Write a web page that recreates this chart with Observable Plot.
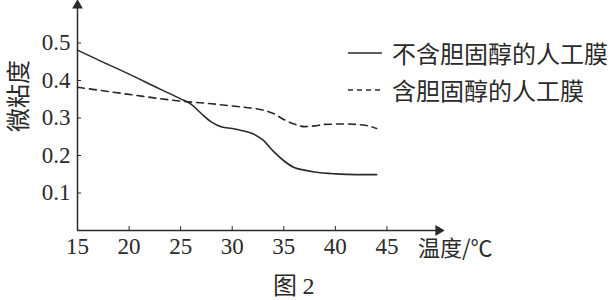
<!DOCTYPE html>
<html><head><meta charset="utf-8">
<script src="https://cdn.jsdelivr.net/npm/d3@7"></script>
<script src="https://cdn.jsdelivr.net/npm/@observablehq/plot@0.6"></script>
<style>
html,body{margin:0;padding:0;background:#fff;}
#wrap{position:relative;width:616px;height:300px;overflow:hidden;font-family:"Noto Sans CJK SC",sans-serif;color:#2a2a2a;}
.abs{position:absolute;white-space:nowrap;line-height:1;}
.serif{font-family:"Liberation Serif",serif;}
#wrap svg text{font-family:"Liberation Serif",serif;}
</style></head>
<body><div id="wrap"><div class="abs" id="cap" style="left:273px;top:272px;font-size:24px;"><span id="cap1"></span><span id="cap2" class="serif"></span></div></div>
<script>
// Data
const solidTemp = [15,17,20,23,25,26,27,28,29,30,31,32,33,34,35,36,37,38,40,42,44];
const solidVisc = [0.481,0.455,0.417,0.377,0.351,0.337,0.312,0.289,0.276,0.272,0.266,0.258,0.241,0.211,0.186,0.168,0.161,0.156,0.151,0.149,0.149];
const dashTemp = [15,20,25,28,30,32,33,34,35,36,37,38,39,41,43,44];
const dashVisc = [0.382,0.363,0.345,0.338,0.332,0.326,0.321,0.312,0.296,0.284,0.277,0.279,0.283,0.284,0.280,0.272];
const xTicks = [15,20,25,30,35,40,45];
const yTicks = [0.1,0.2,0.3,0.4,0.5];
const seriesNames = ["不含胆固醇的人工膜","含胆固醇的人工膜"];
const xTitle = "温度/℃";
const yTitle = "微粘度";
const caption = "图 2";
const xDomain = [15,50];
const yDomain = [0,0.6];

const solid = solidTemp.map((t,i)=>({t, v: solidVisc[i]}));
const dashed = dashTemp.map((t,i)=>({t, v: dashVisc[i]}));
const ink = "#2a2a2a";
const serif = "Liberation Serif";

const chart = Plot.plot({
  width: 616, height: 270,
  marginLeft: 77, marginRight: 178, marginTop: 5, marginBottom: 40,
  x: {domain: xDomain},
  y: {domain: yDomain},
  style: {fontSize: "23px", color: ink, background: "#fff", fontFamily: serif},
  marks: [
    Plot.ruleY([yDomain[0]], {stroke: ink, strokeWidth: 1.5}),
    Plot.ruleX([xDomain[0]], {stroke: ink, strokeWidth: 1.5}),
    Plot.dot([{x: xDomain[1], y: yDomain[0]}], {x: "x", y: "y", symbol: "triangle", rotate: 90, r: 4, fill: ink, stroke: "none"}),
    Plot.dot([{x: xDomain[0], y: yDomain[1]}], {x: "x", y: "y", symbol: "triangle", rotate: 0, r: 4, fill: ink, stroke: "none"}),
    Plot.axisX(xTicks.slice(1), {tickSize: 4, dy: -4, tickFormat: () => "", label: null, stroke: ink}),
    Plot.axisX(xTicks, {tickSize: 0, tickPadding: 7, label: null, fill: ink, fontSize: 23, fontFamily: serif}),
    Plot.axisY(yTicks, {tickSize: 4, dx: 4, tickFormat: () => "", label: null, stroke: ink}),
    Plot.axisY(yTicks, {tickSize: 0, tickPadding: 7, tickFormat: d3.format(".1f"), label: null, fill: ink, fontSize: 23, fontFamily: serif}),
    Plot.line(solid, {x: "t", y: "v", curve: "monotone-x", stroke: ink, strokeWidth: 1.6}),
    Plot.line(dashed, {x: "t", y: "v", curve: "monotone-x", stroke: ink, strokeWidth: 1.6, strokeDasharray: "7,5"})
  ]
});
d3.select(chart).selectAll("text").attr("font-family", serif).style("font-family", serif);
const wrap = document.getElementById("wrap");
chart.style.position = "absolute"; chart.style.left = "0"; chart.style.top = "0";
wrap.insertBefore(chart, wrap.firstChild);

const NS = "http://www.w3.org/2000/svg";
function addDiv(text, css){
  const d = document.createElement("div");
  d.className = "abs"; d.textContent = text;
  Object.assign(d.style, css);
  wrap.appendChild(d);
  return d;
}
// y title (rotated)
{
  const s = document.createElementNS(NS, "svg");
  s.setAttribute("width","34"); s.setAttribute("height","200");
  s.style.position = "absolute"; s.style.left = "0"; s.style.top = "0";
  const t = document.createElementNS(NS, "text");
  t.setAttribute("transform","translate(16,96) rotate(-90)");
  t.setAttribute("text-anchor","middle"); t.setAttribute("dominant-baseline","central");
  t.setAttribute("font-size","24"); t.setAttribute("fill", ink);
  t.style.fontFamily = "Noto Sans CJK SC";
  t.textContent = yTitle;
  s.appendChild(t); wrap.appendChild(s);
}
// x title
addDiv(xTitle, {left: "418px", top: "235px", fontSize: "22px"});
// caption
const capParts = caption.split(" ");
document.getElementById("cap1").textContent = capParts[0] + " ";
document.getElementById("cap2").textContent = capParts[1];
// legend
const dashes = ["none", "5,4"];
seriesNames.forEach((name, i) => {
  const y = i === 0 ? 53 : 90;
  const s = document.createElementNS(NS,"svg");
  s.setAttribute("width","36"); s.setAttribute("height","6");
  s.style.position = "absolute"; s.style.left = "347px"; s.style.top = (y-3)+"px";
  const l = document.createElementNS(NS,"line");
  l.setAttribute("x1","1"); l.setAttribute("x2","35"); l.setAttribute("y1","3"); l.setAttribute("y2","3");
  l.setAttribute("stroke", ink); l.setAttribute("stroke-width","1.6");
  if (dashes[i] !== "none") l.setAttribute("stroke-dasharray", dashes[i]);
  s.appendChild(l); wrap.appendChild(s);
  addDiv(name, {left: "392px", top: (y-12)+"px", fontSize: "24px"});
});
</script></body></html>
